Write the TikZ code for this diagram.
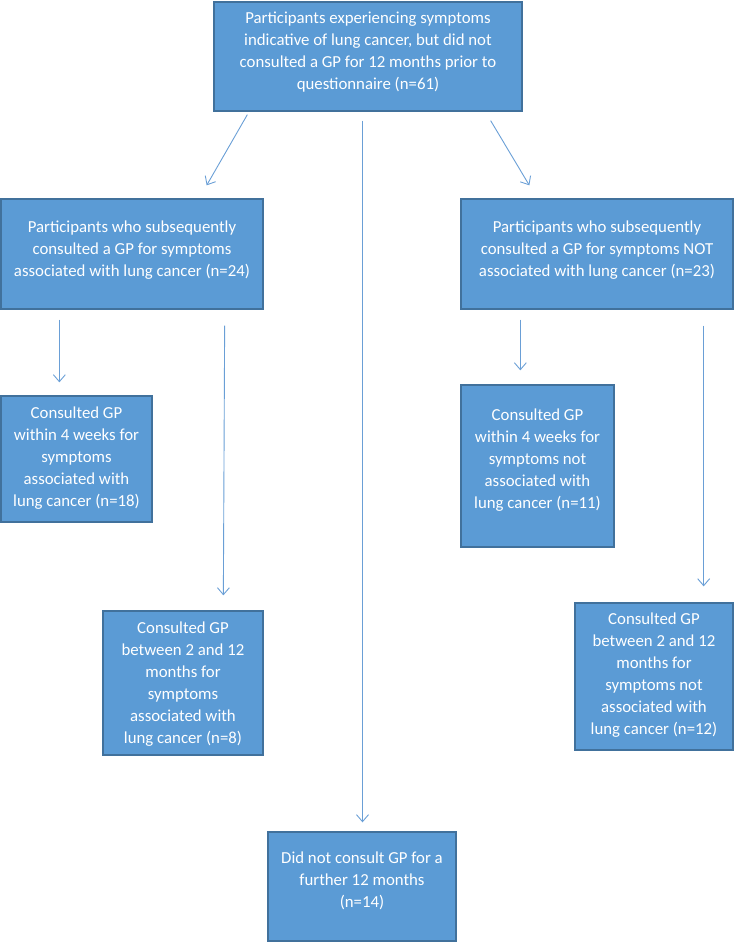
\documentclass[tikz,border=0pt]{standalone}
\usepackage{fontspec}
\setmainfont{Carlito}
\usetikzlibrary{arrows.meta}
\definecolor{boxfill}{HTML}{5B9BD5}
\definecolor{boxline}{HTML}{41719C}
\definecolor{arrowc}{HTML}{6A9FD6}
\begin{document}
\begin{tikzpicture}[x=1pt,y=1pt,
  box/.style={draw=boxline, fill=boxfill, line width=1.3pt, inner sep=0pt, rectangle},
  txt/.style={text=white, align=center, inner sep=0pt, font=\fontsize{16.8}{22}\selectfont},
  conn/.style={draw=arrowc, line width=0.9pt, -{Straight Barb[length=7pt,width=12pt]}}]
\useasboundingbox (0,0) rectangle (734,-942);
% boxes
\node[box, minimum width=308pt, minimum height=109pt] (top) at (368,-56.5) {};
\node[box, minimum width=262pt, minimum height=110pt] (L1) at (132,-254) {};
\node[box, minimum width=272pt, minimum height=110pt] (R1) at (597,-254) {};
\node[box, minimum width=151pt, minimum height=126pt] (L2) at (76.5,-459) {};
\node[box, minimum width=153pt, minimum height=162pt] (R2) at (537.5,-466) {};
\node[box, minimum width=160pt, minimum height=144pt] (L3) at (183,-683) {};
\node[box, minimum width=158pt, minimum height=147pt] (R3) at (654,-676.5) {};
\node[box, minimum width=188pt, minimum height=109pt] (B) at (362,-886.5) {};
% texts
\node[txt] (topT) at ([yshift=4pt]top.center) {Participants experiencing symptoms\\indicative of lung cancer, but did not\\consulted a GP for 12 months prior to\\questionnaire (n=61)};
\node[txt] (L1T) at ([yshift=4pt]L1.center) {Participants who subsequently\\consulted a GP for symptoms\\associated with lung cancer (n=24)};
\node[txt] (R1T) at ([yshift=4pt]R1.center) {Participants who subsequently\\consulted a GP for symptoms NOT\\associated with lung cancer (n=23)};
\node[txt] (L2T) at ([yshift=1pt]L2.center) {Consulted GP\\within 4 weeks for\\symptoms\\associated with\\lung cancer (n=18)};
\node[txt] (R2T) at ([yshift=5.5pt]R2.center) {Consulted GP\\within 4 weeks for\\symptoms not\\associated with\\lung cancer (n=11)};
\node[txt] (L3T) at ([yshift=-1pt]L3.center) {Consulted GP\\between 2 and 12\\months for\\symptoms\\associated with\\lung cancer (n=8)};
\node[txt] (R3T) at ([yshift=1.5pt]R3.center) {Consulted GP\\between 2 and 12\\months for\\symptoms not\\associated with\\lung cancer (n=12)};
\node[txt] (BT) at ([yshift=5.5pt]B.center) {Did not consult GP for a\\further 12 months\\(n=14)};
% connector end points
\coordinate (a1s) at ([shift={(34,-3)}]top.south west);
\coordinate (a1e) at ([shift={(-57,13)}]L1.north east);
\coordinate (a2s) at ([shift={(-32,-9)}]top.south east);
\coordinate (a2e) at ([shift={(69,13)}]R1.north west);
\coordinate (a3s) at ([shift={(-5.5,-9)}]top.south);
\coordinate (a3e) at ([shift={(0.5,9)}]B.north);
\coordinate (a4s) at ([shift={(59,-10)}]L1.south west);
\coordinate (a4e) at ([shift={(59,13)}]L2.north west);
\coordinate (a5s) at ([shift={(-39,-16)}]L1.south east);
\coordinate (a5e) at ([shift={(121,15)}]L3.north west);
\coordinate (a6s) at ([shift={(60,-10)}]R1.south west);
\coordinate (a6e) at ([shift={(60,14)}]R2.north west);
\coordinate (a7s) at ([shift={(-30,-16)}]R1.south east);
\coordinate (a7e) at ([shift={(-30,16)}]R3.north east);
% connectors
\draw[conn] (a1s) -- (a1e);
\draw[conn] (a2s) -- (a2e);
\draw[conn] (a3s) -- (a3e);
\draw[conn] (a4s) -- (a4e);
\draw[conn] (a5s) -- (a5e);
\draw[conn] (a6s) -- (a6e);
\draw[conn] (a7s) -- (a7e);
\end{tikzpicture}
\end{document}
